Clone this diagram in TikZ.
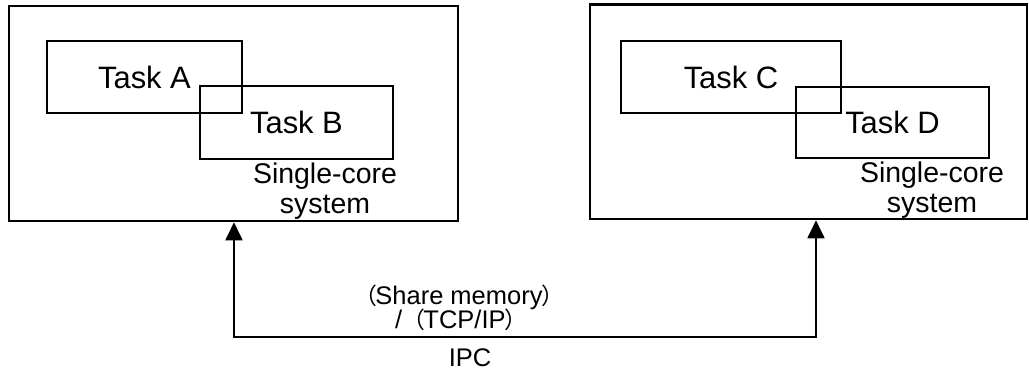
\documentclass[tikz,border=0pt]{standalone}
\usepackage{fontspec}
\setmainfont{Liberation Sans}
\newfontfamily\cjk{Noto Sans CJK SC}
\usetikzlibrary{arrows.meta}
\newcommand{\lparen}{\smash{\cjk\fontsize{13}{14}\selectfont （}\hspace{-0.06em}}
\newcommand{\rparen}{\hspace{-0.06em}\smash{\cjk\fontsize{13}{14}\selectfont ）}}
\begin{document}
\begin{tikzpicture}[x=0.02cm,y=-0.02cm,
	sysbox/.style n args={2}{draw,line width=1.5pt,inner sep=0pt,minimum width=#1,minimum height=#2},
	taskbox/.style n args={2}{draw,line width=1.3pt,inner sep=0pt,minimum width=#1,minimum height=#2,font=\fontsize{17.6}{19}\selectfont},
	syslabel/.style={align=center,inner sep=0pt,font=\fontsize{16.2}{17}\selectfont},
	ipclabel/.style={anchor=base,inner sep=0pt,font=\fontsize{14.5}{16}\selectfont},
	link/.style={line width=1.1pt,{Triangle[length=0.36cm,width=0.34cm]}-{Triangle[length=0.36cm,width=0.34cm]}}]
	\useasboundingbox (0,0) rectangle (1029,373);
	\node[sysbox={8.98cm}{4.3cm}] (sys1) at (233.5,113.5) {};
	\node[sysbox={8.74cm}{4.29cm}] (sys2) at (808.5,111.75) {};
	\node[taskbox={3.9cm}{1.44cm}] (taskA) at (144.5,77) {Task A};
	\node[taskbox={3.86cm}{1.46cm}] (taskB) at (296.5,122.5) {Task B};
	\node[taskbox={4.4cm}{1.44cm}] (taskC) at (731,77) {Task C};
	\node[taskbox={3.86cm}{1.42cm}] (taskD) at (892.5,122.5) {Task D};
	\node[syslabel] (lab1) at (325,191) {Single-core\\system};
	\node[syslabel] (lab2) at (932,190) {Single-core\\system};
	\coordinate (ipcL) at (234,337);
	\coordinate (ipcR) at (816,337);
	\draw[link] (sys1.south -| ipcL) -- (ipcL) -- (ipcR) -- (sys2.south -| ipcR);
	\node[ipclabel] (mem) at (459,304) {\lparen Share memory\rparen};
	\node[ipclabel] (tcp) at (461,328) {/\lparen TCP/IP\rparen};
	\node[ipclabel] (ipc) at (470,366) {IPC};
\end{tikzpicture}
\end{document}
